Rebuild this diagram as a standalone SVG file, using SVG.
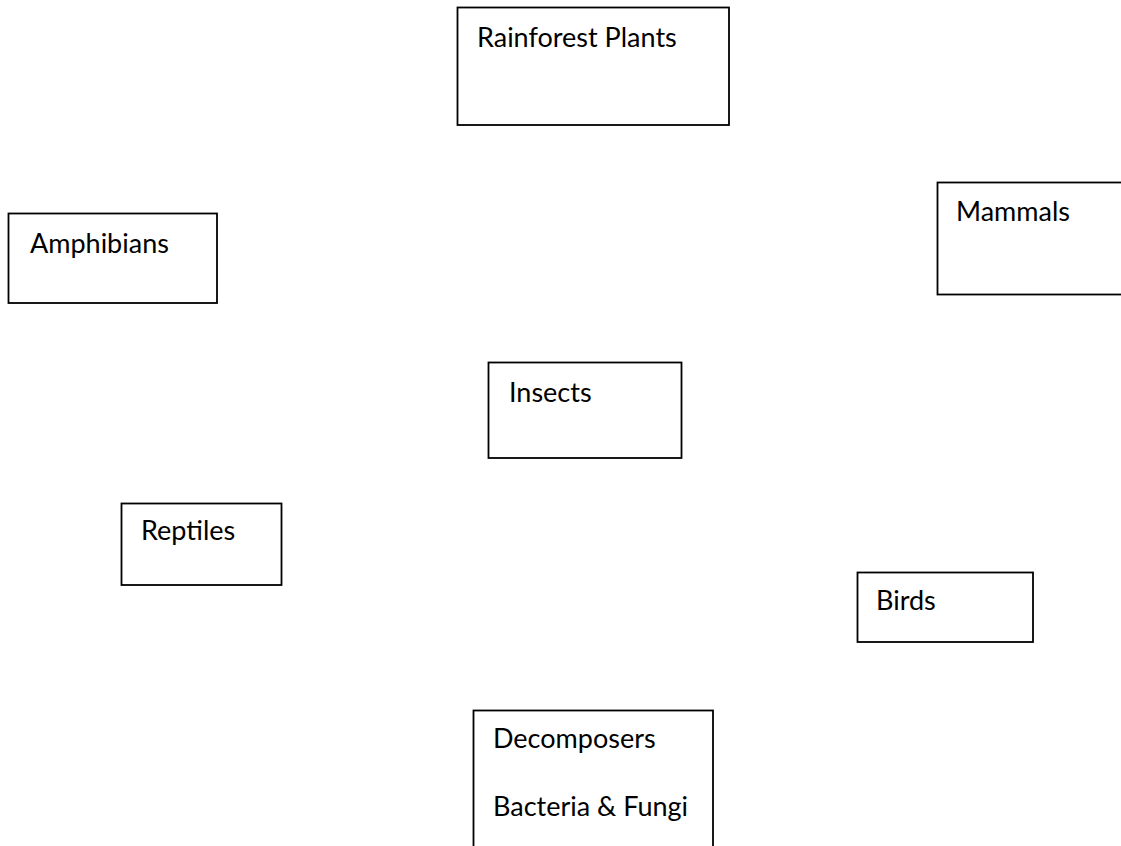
<svg xmlns="http://www.w3.org/2000/svg" width="1121" height="846" viewBox="0 0 1121 846">
<style>
.box{fill:#fff;stroke:#000;stroke-width:1.8}
.lbl{font-family:Lato,"Open Sans",sans-serif;font-size:27px;fill:#000}
</style>
<rect width="1121" height="846" fill="#fff"/>
<g id="connectors"></g>
<g id="plants"><rect class="box" x="457.5" y="7.5" width="271.5" height="117.5"/><text class="lbl" x="477" y="47">Rainforest Plants</text></g>
<g id="amphibians"><rect class="box" x="8.5" y="213.5" width="208.5" height="89.5"/><text class="lbl" x="30" y="253">Amphibians</text></g>
<g id="mammals"><rect class="box" x="937.5" y="182.5" width="190" height="112"/><text class="lbl" x="956" y="221">Mammals</text></g>
<g id="insects"><rect class="box" x="488.5" y="362.5" width="193" height="95.5"/><text class="lbl" x="509" y="402">Insects</text></g>
<g id="reptiles"><rect class="box" x="121.5" y="503.5" width="160" height="81.5"/><text class="lbl" x="141" y="540">Reptiles</text></g>
<g id="birds"><rect class="box" x="857.5" y="572.5" width="175.5" height="69.5"/><text class="lbl" x="876" y="610">Birds</text></g>
<g id="decomposers"><rect class="box" x="473.5" y="710.5" width="239.5" height="150"/><text class="lbl" x="493" y="748">Decomposers</text><text class="lbl" x="493" y="816">Bacteria &amp; Fungi</text></g>
</svg>
